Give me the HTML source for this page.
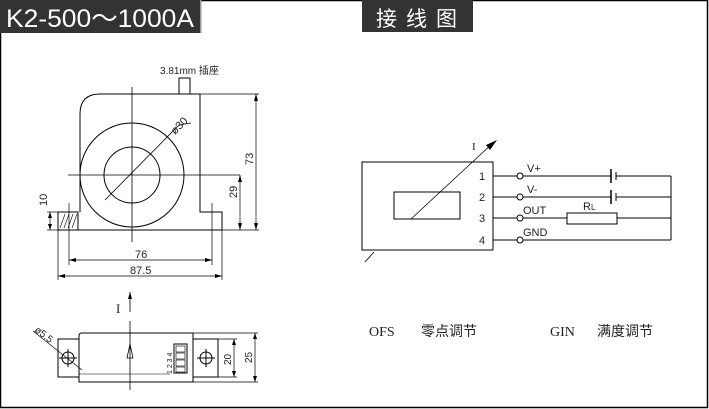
<!DOCTYPE html>
<html><head><meta charset="utf-8"><style>
html,body{margin:0;padding:0;background:#fff;}
svg{display:block;}
text{font-family:"Liberation Sans","Noto Sans CJK SC",sans-serif;}
text.serif{font-family:"Liberation Serif","Noto Serif CJK SC",serif;}
</style></head><body>
<svg width="709" height="409" viewBox="0 0 709 409" xmlns="http://www.w3.org/2000/svg">
<rect x="0.5" y="0.5" width="707" height="407" fill="#fff" stroke="#000" stroke-width="1.5"/>
<rect x="0" y="0" width="200" height="33" fill="#333"/>
<rect x="200" y="0" width="1.5" height="33" fill="#999"/>
<text x="6" y="27" font-size="25" fill="#fff" textLength="188" lengthAdjust="spacingAndGlyphs">K2-500～1000A</text>
<rect x="362" y="0" width="111" height="32" fill="#333"/>
<text x="376" y="26" font-size="21" fill="#fff" letter-spacing="9">接线图</text>

<g stroke="#000" stroke-width="1" fill="none">
<path d="M80,212 V114 Q80,94 100,94 H200 V212 H222 V230 H58 V212 H78"/>
<rect x="179" y="78" width="11" height="16"/>
<rect x="58" y="212" width="20" height="18"/>
<path d="M60,228 l5,-14 M64,228 l5,-14 M68,228 l5,-14 M72,228 l5,-14" stroke-width="0.6"/>
<circle cx="132" cy="175" r="52"/>
<circle cx="132" cy="175" r="28"/>
<line x1="132" y1="87" x2="132" y2="242" stroke-width="0.8"/>
<line x1="68" y1="175" x2="240" y2="175" stroke-width="0.8"/>
<line x1="105" y1="200" x2="179" y2="125" stroke-width="0.8"/>
<line x1="179" y1="125" x2="191" y2="123" stroke-width="0.8"/>
<g stroke-width="0.7">
<line x1="200" y1="94" x2="259" y2="94"/><line x1="222" y1="230" x2="259" y2="230"/>
<line x1="256" y1="94" x2="256" y2="230"/>
<line x1="240" y1="175" x2="240" y2="230"/>
<line x1="47" y1="212" x2="58" y2="212"/><line x1="47" y1="230" x2="58" y2="230"/>
<line x1="50" y1="212" x2="50" y2="230"/>
<line x1="69" y1="203" x2="69" y2="265"/><line x1="212" y1="203" x2="212" y2="265"/>
<line x1="69" y1="260" x2="212" y2="260"/>
<line x1="58" y1="230" x2="58" y2="280"/><line x1="222" y1="230" x2="222" y2="280"/>
<line x1="58" y1="276" x2="222" y2="276"/>
</g>
</g>
<g fill="#000">
<path d="M256,94 l-2,7 h4z M256,230 l-2,-7 h4z M240,175 l-2,7 h4z M240,230 l-2,-7 h4z M50,212 l-2,6 h4z M50,230 l-2,-6 h4z M69,260 l7,-2 v4z M212,260 l-7,-2 v4z M58,276 l7,-2 v4z M222,276 l-7,-2 v4z"/>
</g>
<g font-size="11" fill="#222">
<text x="160" y="74" font-size="10">3.81mm 插座</text>
<text transform="translate(253,165) rotate(-90)">73</text>
<text transform="translate(237,198) rotate(-90)">29</text>
<text transform="translate(47,206) rotate(-90)">10</text>
<text x="135" y="258">76</text>
<text x="130" y="274">87.5</text>
<text transform="translate(175,135) rotate(-45)">ø30</text>
</g>

<g stroke="#000" stroke-width="1" fill="none">
<rect x="362" y="162" width="131" height="88"/>
<rect x="394" y="192" width="66" height="27"/>
<line x1="411" y1="219" x2="494" y2="142" stroke-width="0.8"/>
<line x1="365" y1="262" x2="374" y2="252" stroke-width="0.8"/>
<line x1="493" y1="176" x2="517" y2="176"/><line x1="523" y1="176" x2="611" y2="176"/><line x1="616" y1="176" x2="671" y2="176"/>
<line x1="493" y1="197" x2="517" y2="197"/><line x1="523" y1="197" x2="611" y2="197"/><line x1="616" y1="197" x2="671" y2="197"/>
<line x1="493" y1="218" x2="517" y2="218"/><line x1="523" y1="218" x2="567" y2="218"/><line x1="617" y1="218" x2="671" y2="218"/>
<line x1="493" y1="240" x2="517" y2="240"/><line x1="523" y1="240" x2="671" y2="240"/>
<line x1="671" y1="176" x2="671" y2="240"/>
<circle cx="520" cy="176" r="3"/><circle cx="520" cy="197" r="3"/><circle cx="520" cy="218" r="3"/><circle cx="520" cy="240" r="3"/>
<line x1="611" y1="169" x2="611" y2="183" stroke-width="1.5"/><line x1="616" y1="172" x2="616" y2="180"/>
<line x1="611" y1="190" x2="611" y2="204" stroke-width="1.5"/><line x1="616" y1="193" x2="616" y2="201"/>
<rect x="567" y="213" width="50" height="11"/>
</g>
<path d="M497,140 l-11,5 l4,5z" fill="#000"/>
<g font-size="11" fill="#222">
<text x="472" y="150" class="serif">I</text>
<text x="479" y="180">1</text><text x="479" y="201">2</text><text x="479" y="222">3</text><text x="479" y="244">4</text>
<text x="527" y="172">V+</text><text x="527" y="193">V-</text>
<text x="523" y="214">OUT</text><text x="523" y="236">GND</text>
<text x="583" y="210">R<tspan font-size="8">L</tspan></text>
</g>

<g stroke="#000" stroke-width="1" fill="none">
<rect x="58" y="339" width="160" height="38"/>
<path d="M79,382 V336 Q79,333 82,333 H193 V382 Z" fill="#fff"/>
<line x1="79" y1="374" x2="170" y2="374" stroke-width="0.6"/>
<rect x="174" y="344" width="13" height="29"/>
<rect x="176" y="346" width="9" height="6" stroke-width="0.6"/><rect x="176" y="353" width="9" height="6" stroke-width="0.6"/>
<rect x="176" y="360" width="9" height="6" stroke-width="0.6"/><rect x="176" y="367" width="9" height="5" stroke-width="0.6"/>
<line x1="193" y1="339" x2="218" y2="339"/>
<circle cx="68" cy="358" r="6"/><line x1="59" y1="358" x2="77" y2="358"/><line x1="68" y1="349" x2="68" y2="367"/>
<circle cx="206" cy="358" r="6"/><line x1="197" y1="358" x2="215" y2="358"/><line x1="206" y1="349" x2="206" y2="367"/>
<line x1="130" y1="321" x2="130" y2="390" stroke-width="0.8"/>
<line x1="130" y1="292" x2="130" y2="312" stroke-width="0.8"/>
<path d="M127,358 L130,344 L133,358 Z" stroke-width="0.8"/>
<line x1="193" y1="333" x2="258" y2="333" stroke-width="0.7"/><line x1="193" y1="382" x2="258" y2="382" stroke-width="0.7"/>
<line x1="218" y1="339" x2="237" y2="339" stroke-width="0.7"/><line x1="218" y1="377" x2="237" y2="377" stroke-width="0.7"/>
<line x1="234" y1="339" x2="234" y2="377" stroke-width="0.7"/><line x1="255" y1="333" x2="255" y2="382" stroke-width="0.7"/>
<line x1="33" y1="331" x2="82" y2="370" stroke-width="0.7"/>
</g>
<path d="M130,292 l-2,7 h4z M234,339 l-2,6 h4z M234,377 l-2,-6 h4z M255,333 l-2,6 h4z M255,382 l-2,-6 h4z" fill="#000"/>
<g font-size="10" fill="#222">
<text x="116" y="313" class="serif" font-size="13">I</text>
<text transform="translate(34,331) rotate(38)">ø5.5</text>
<text transform="translate(231,365) rotate(-90)">20</text>
<text transform="translate(252,363) rotate(-90)">25</text>
<text transform="translate(172,374) rotate(-90)" font-size="7">1 2 3 4</text>
</g>
<text x="369" y="336" font-size="14" class="serif" fill="#222">OFS</text>
<text x="421" y="336" font-size="14" fill="#222">零点调节</text>
<text x="550" y="336" font-size="14" class="serif" fill="#222">GIN</text>
<text x="597" y="336" font-size="14" fill="#222">满度调节</text>
</svg>
</body></html>
